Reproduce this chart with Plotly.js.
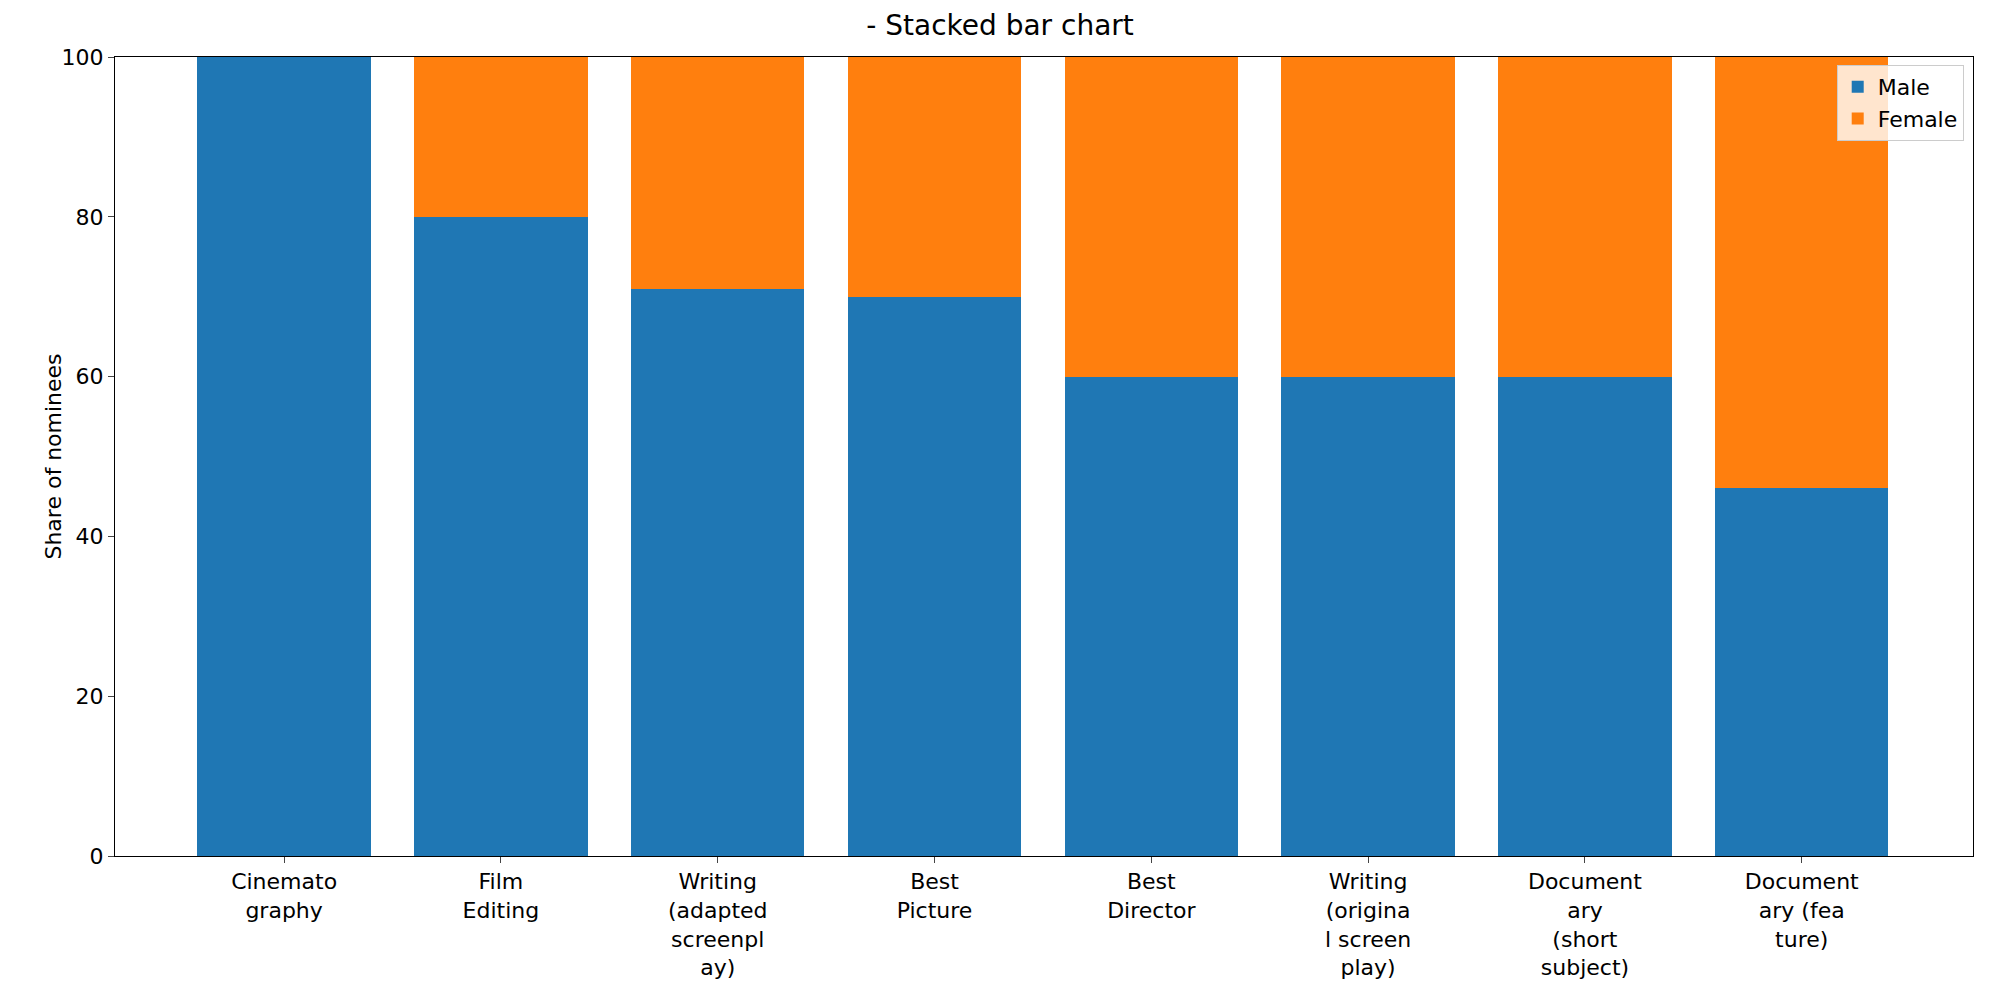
<!DOCTYPE html>
<html><head><script src="https://cdn.plot.ly/plotly-3.0.1.min.js"></script>
<style>body{margin:0}</style></head><body>
<div id="c" style="width:2000px;height:1000px"></div>
<script>
const categories = ["Cinemato<br>graphy","Film<br>Editing","Writing<br>(adapted<br>screenpl<br>ay)","Best<br>Picture","Best<br>Director","Writing<br>(origina<br>l screen<br>play)","Document<br>ary<br>(short<br>subject)","Document<br>ary (fea<br>ture)"];
const male = [100, 80, 71, 70, 60, 60, 60, 46];
const female = [0, 20, 29, 30, 40, 40, 40, 54];
const idx = categories.map((_, i) => i);
const f = {family: "DejaVu Sans", size: 22, color: "#000"};
Plotly.newPlot("c", [
  {type: "bar", name: "Male", x: idx, y: male, marker: {color: "#1f77b4"}},
  {type: "bar", name: "Female", x: idx, y: female, marker: {color: "#ff7f0e"}}
], {
  barmode: "stack", bargap: 0.2, width: 2000, height: 1000,
  margin: {l: 115, r: 27, t: 57, b: 144},
  font: f, paper_bgcolor: "#fff", plot_bgcolor: "#fff",
  title: {text: "- Stacked bar chart", font: {family: "DejaVu Sans", size: 28}, x: 0.5, y: 0.985, yanchor: "top"},
  xaxis: {tickmode: "array", tickvals: idx, ticktext: categories, range: [-0.78, 7.79],
    showline: true, mirror: true, linecolor: "#000", ticks: "outside", ticklen: 6, showgrid: false, zeroline: false},
  yaxis: {range: [0, 100], dtick: 20, title: {text: "Share of nominees", font: f},
    showline: true, mirror: true, linecolor: "#000", ticks: "outside", ticklen: 6, showgrid: false, zeroline: false},
  legend: {x: 0.995, y: 0.99, xanchor: "right", yanchor: "top", bgcolor: "rgba(255,255,255,0.8)",
    bordercolor: "#ccc", borderwidth: 1, font: f, traceorder: "normal"}
}, {displayModeBar: false});
</script></body></html>
